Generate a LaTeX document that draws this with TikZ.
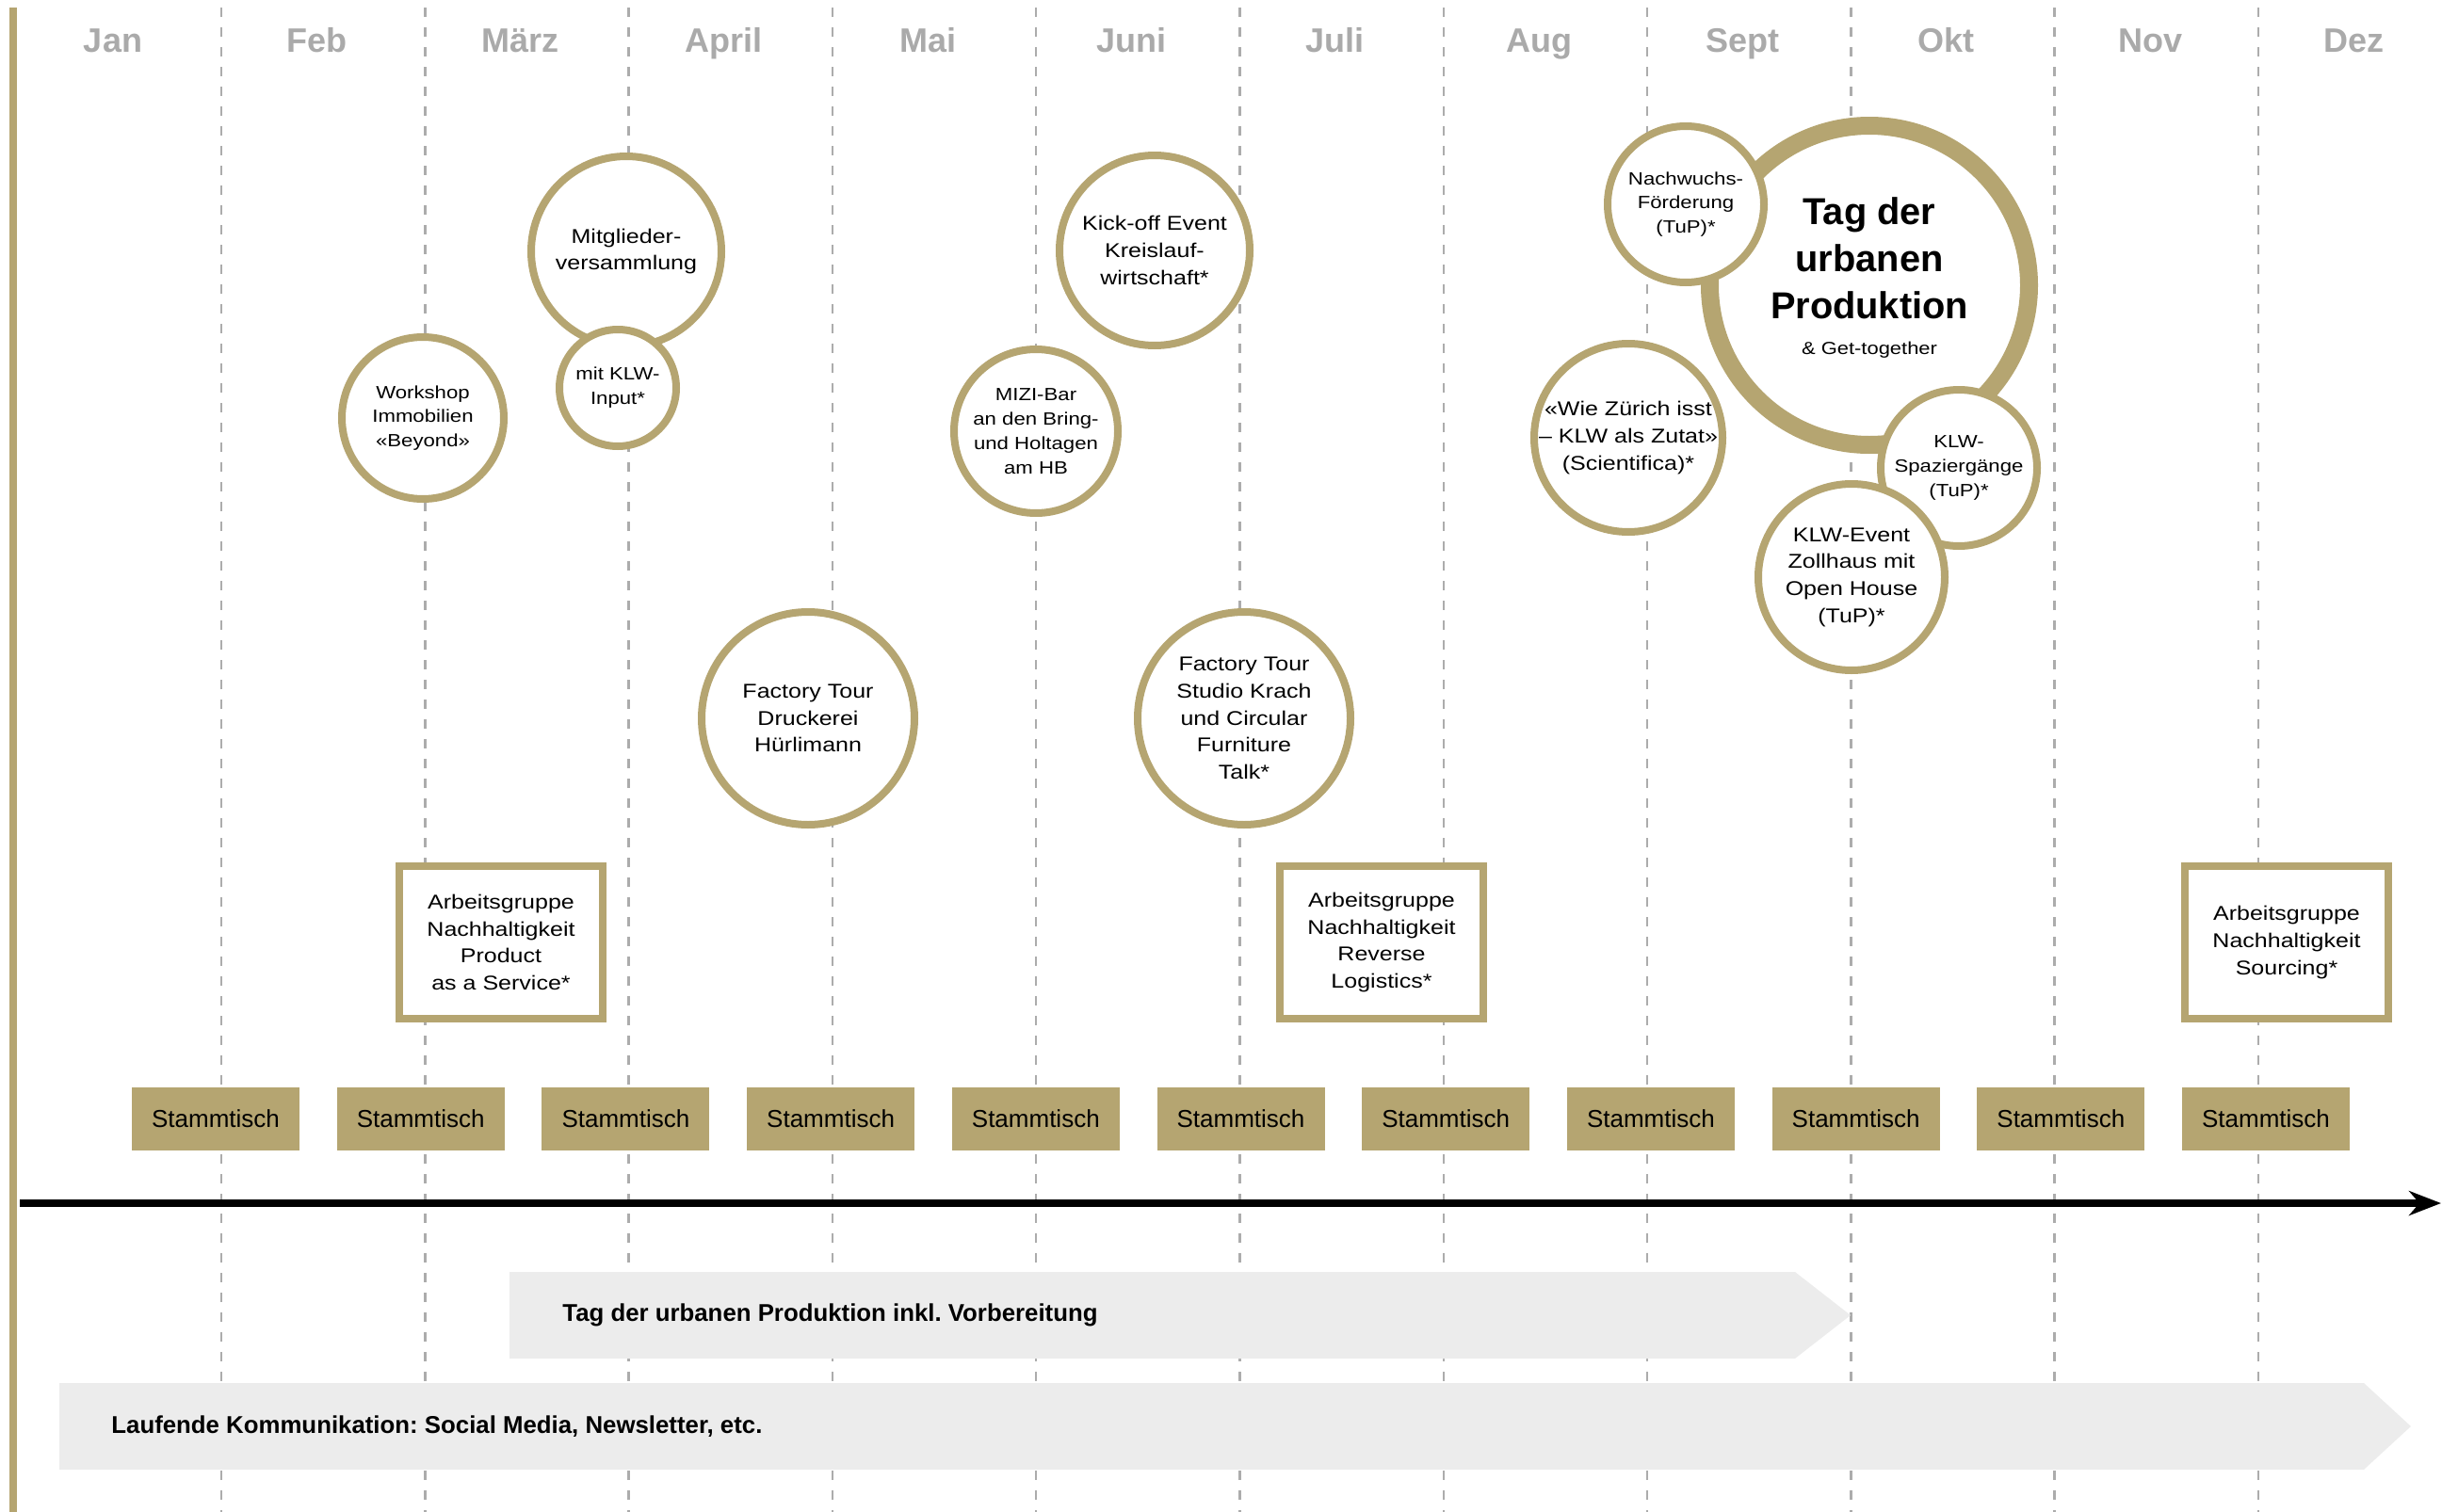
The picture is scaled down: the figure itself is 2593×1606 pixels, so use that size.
\documentclass[tikz,border=0pt]{standalone}
\usepackage{fontspec}
\setmainfont{Liberation Sans}
\newfontfamily\widefont[FakeStretch=1.18]{Liberation Sans}
\usepackage{tikz}
\usetikzlibrary{positioning, arrows.meta}
\frenchspacing

\definecolor{klwgold}{RGB}{181,165,113}
\definecolor{klwgrey}{RGB}{170,170,170}
\definecolor{klwline}{RGB}{172,172,172}
\definecolor{klwlight}{RGB}{236,236,236}

\begin{document}
\begin{tikzpicture}[x=0.5pt, y=-0.5pt,
	month/.style={on grid, text height=13pt, text depth=0pt, inner sep=0pt, text=klwgrey, font=\fontsize{18}{20}\selectfont\bfseries},
	monthline/.style={klwline, line width=1.25pt, dash pattern=on 5pt off 5.5pt},
	event/.style={circle, draw=klwgold, line width=4pt, fill=white, inner sep=-12pt, align=center, font=\widefont\fontsize{10.6}{14.3}\selectfont},
	smallevent/.style={event, font=\widefont\fontsize{9.4}{12.9}\selectfont},
	agbox/.style={rectangle, draw=klwgold, line width=4pt, fill=white, minimum width=108pt, minimum height=81pt, inner sep=0pt, align=center, font=\widefont\fontsize{10.6}{14.4}\selectfont},
	stamm/.style={on grid, rectangle, fill=klwgold, minimum width=89pt, minimum height=33.5pt, inner sep=0pt, font=\fontsize{13}{15}\selectfont},
	bartext/.style={anchor=west, inner sep=0pt, font=\fontsize{12.9}{15}\selectfont\bfseries}]
	\useasboundingbox (0,0) rectangle (2593,1606);

	\foreach \k in {0,...,10}
		\draw[monthline] ({235+216.3*\k},8) -- ({235+216.3*\k},1606);
	\draw[klwgold, line width=4pt] (14,8) -- (14,1606);

	\node[month] (jan) at (120,42) {Jan};
	\node[month, right=108.15pt of jan] (feb) {Feb};
	\node[month, right=108.15pt of feb] (maerz) {März};
	\node[month, right=108.15pt of maerz] (april) {April};
	\node[month, right=108.15pt of april] (mai) {Mai};
	\node[month, right=108.15pt of mai] (juni) {Juni};
	\node[month, right=108.15pt of juni] (juli) {Juli};
	\node[month, right=108.15pt of juli] (aug) {Aug};
	\node[month, right=108.15pt of aug] (sept) {Sept};
	\node[month, right=108.15pt of sept] (okt) {Okt};
	\node[month, right=108.15pt of okt] (nov) {Nov};
	\node[month, right=108.15pt of nov] (dez) {Dez};

	\fill[klwlight] (541,1351) -- (1906,1351) -- (1965,1397) -- (1906,1443) -- (541,1443) -- cycle;
	\node[bartext] (vorbereitung) at (597,1397) {Tag der urbanen Produktion inkl. Vorbereitung};
	\fill[klwlight] (63,1469) -- (2510,1469) -- (2560,1515) -- (2510,1561) -- (63,1561) -- cycle;
	\node[bartext] (kommunikation) at (118,1515) {Laufende Kommunikation: Social Media, Newsletter, etc.};

	\coordinate (t0) at (21,1278);
	\coordinate (t1) at (2592,1278);
	\draw[line width=4pt, -{Stealth[length=17pt, width=13pt]}] (t0) -- (t1);

	\node[stamm] (st1) at (229,1188.5) {Stammtisch};
	\node[stamm, right=108.85pt of st1] (st2) {Stammtisch};
	\node[stamm, right=108.85pt of st2] (st3) {Stammtisch};
	\node[stamm, right=108.85pt of st3] (st4) {Stammtisch};
	\node[stamm, right=108.85pt of st4] (st5) {Stammtisch};
	\node[stamm, right=108.85pt of st5] (st6) {Stammtisch};
	\node[stamm, right=108.85pt of st6] (st7) {Stammtisch};
	\node[stamm, right=108.85pt of st7] (st8) {Stammtisch};
	\node[stamm, right=108.85pt of st8] (st9) {Stammtisch};
	\node[stamm, right=108.85pt of st9] (st10) {Stammtisch};
	\node[stamm, right=108.85pt of st10] (st11) {Stammtisch};

	\node[agbox] (agservice) at (532,1001) {Arbeitsgruppe\\Nachhaltigkeit\\Product\\as a Service*};
	\node[agbox] (aglogistics) at (1467,1001) {Arbeitsgruppe\\Nachhaltigkeit\\Reverse\\Logistics*};
	\node[agbox] (agsourcing) at (2428,1001) {Arbeitsgruppe\\Nachhaltigkeit\\Sourcing*};

	\node[smallevent, minimum size=86pt] (workshop) at (449,444) {Workshop\\Immobilien\\«Beyond»};
	\node[event, minimum size=101pt] (mitglieder) at (665,267) {Mitglieder-\\versammlung};
	\node[smallevent, minimum size=62pt] (klwinput) at (656,412) {mit KLW-\\Input*};
	\node[event, minimum size=101pt] (kickoff) at (1226,266) {Kick-off Event\\Kreislauf-\\wirtschaft*};
	\node[smallevent, minimum size=87pt] (mizi) at (1100,458) {MIZI-Bar\\an den Bring-\\und Holtagen\\am HB};
	\node[event, minimum size=113pt] (druckerei) at (858,763) {Factory Tour\\Druckerei\\Hürlimann};
	\node[event, minimum size=113pt] (krach) at (1321,763) {Factory Tour\\Studio Krach\\und Circular\\Furniture\\Talk*};

	\node[event, line width=9.5pt, minimum size=169.5pt] (tup) at (1985,303) {};
	\node[inner sep=0pt, align=center, font=\fontsize{19.9}{25}\selectfont\bfseries] (tuptitle) at ([yshift=14.5pt]tup.center) {Tag der\\urbanen\\Produktion};
	\node[inner sep=0pt, font=\widefont\fontsize{9.3}{12}\selectfont, below=12pt of tuptitle] (tupnote) {\& Get-together};

	\node[smallevent, minimum size=83pt] (nachwuchs) at (1790,217) {Nachwuchs-\\Förderung\\(TuP)*};
	\node[event, minimum size=100pt] (zuerich) at (1729,465) {«Wie Zürich isst\\– KLW als Zutat»\\(Scientifica)*};
	\node[smallevent, minimum size=83pt] (spazier) at (2080,497) {KLW-\\Spaziergänge\\(TuP)*};
	\node[event, minimum size=99pt] (zollhaus) at (1966,613) {KLW-Event\\Zollhaus mit\\Open House\\(TuP)*};
\end{tikzpicture}
\end{document}
